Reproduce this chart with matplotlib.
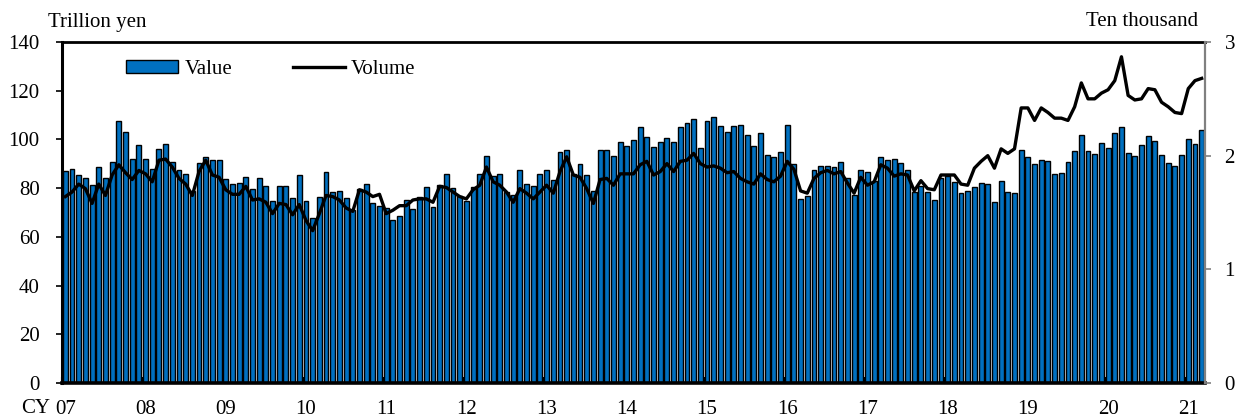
import matplotlib
matplotlib.use("Agg")
import matplotlib.pyplot as plt
import numpy as np
from matplotlib.patches import Patch
from matplotlib.lines import Line2D

plt.rcParams['font.family'] = ['Liberation Serif', 'DejaVu Serif']

# ---- data (monthly, Jan 2007 - Mar 2021) ----
year_labels = ["07", "08", "09", "10", "11", "12", "13", "14",
               "15", "16", "17", "18", "19", "20", "21"]

# Value (trillion yen)
value_07 = [87.1, 87.8, 85.3, 84.0, 81.2, 88.6, 84.0, 90.8, 107.7, 102.9, 91.9, 97.7]
value_08 = [91.8, 87.8, 96.2, 98.2, 90.7, 87.5, 85.8, 79.0, 90.4, 92.7, 91.5, 91.5]
value_09 = [83.6, 81.9, 82.3, 84.4, 79.6, 84.0, 80.8, 74.8, 80.8, 80.8, 75.9, 85.5]
value_10 = [74.8, 67.7, 76.3, 86.7, 78.5, 78.9, 75.9, 71.0, 79.6, 81.5, 74.0, 72.8]
value_11 = [71.8, 67.0, 68.5, 75.3, 71.6, 76.2, 80.3, 72.1, 81.2, 85.8, 79.9, 76.8]
value_12 = [74.8, 80.5, 85.8, 93.4, 84.9, 85.8, 78.5, 77.1, 87.4, 81.5, 81.0, 86.0]
value_13 = [87.4, 83.5, 94.9, 95.5, 86.0, 89.8, 85.3, 79.0, 95.5, 95.5, 93.4, 98.9]
value_14 = [97.5, 99.6, 105.1, 101.1, 97.0, 98.8, 100.4, 98.8, 105.1, 106.8, 108.5, 96.4]
value_15 = [107.6, 109.2, 105.5, 103.1, 105.6, 105.9, 102.0, 97.4, 102.6, 93.5, 92.9, 94.8]
value_16 = [105.9, 89.8, 75.4, 76.8, 87.4, 89.1, 89.1, 88.8, 90.6, 84.1, 77.3, 87.4]
value_17 = [86.7, 83.1, 92.6, 91.7, 91.8, 90.4, 87.5, 78.3, 80.9, 78.3, 75.1, 84.0]
value_18 = [85.0, 82.4, 78.1, 79.0, 80.4, 82.2, 81.6, 74.4, 83.0, 78.5, 78.1, 95.7]
value_19 = [92.6, 89.9, 91.6, 91.2, 86.0, 86.4, 90.7, 95.3, 101.8, 95.3, 94.0, 98.7]
value_20 = [96.6, 102.7, 105.2, 94.5, 93.2, 97.7, 101.4, 99.3, 93.5, 90.5, 89.0, 93.6]
value_21 = [100.1, 98.1, 103.8]

# Volume (ten thousand)
volume_07 = [1.64, 1.68, 1.75, 1.71, 1.58, 1.75, 1.65, 1.83, 1.92, 1.85, 1.79, 1.87]
volume_08 = [1.84, 1.77, 1.96, 1.97, 1.90, 1.80, 1.75, 1.65, 1.86, 1.96, 1.83, 1.81]
volume_09 = [1.70, 1.66, 1.66, 1.73, 1.61, 1.62, 1.59, 1.49, 1.58, 1.57, 1.48, 1.57]
volume_10 = [1.43, 1.34, 1.49, 1.65, 1.64, 1.61, 1.54, 1.51, 1.70, 1.68, 1.64, 1.66]
volume_11 = [1.49, 1.52, 1.56, 1.56, 1.61, 1.62, 1.62, 1.59, 1.73, 1.72, 1.68, 1.64]
volume_12 = [1.62, 1.70, 1.74, 1.90, 1.77, 1.74, 1.68, 1.59, 1.71, 1.67, 1.62, 1.68]
volume_13 = [1.74, 1.67, 1.86, 1.99, 1.83, 1.81, 1.71, 1.58, 1.79, 1.80, 1.74, 1.84]
volume_14 = [1.84, 1.84, 1.92, 1.95, 1.83, 1.86, 1.93, 1.86, 1.95, 1.96, 2.02, 1.93]
volume_15 = [1.90, 1.91, 1.89, 1.85, 1.86, 1.80, 1.77, 1.75, 1.84, 1.79, 1.77, 1.82]
volume_16 = [1.95, 1.88, 1.69, 1.67, 1.80, 1.85, 1.87, 1.84, 1.86, 1.76, 1.67, 1.81]
volume_17 = [1.74, 1.77, 1.92, 1.89, 1.82, 1.84, 1.83, 1.69, 1.78, 1.71, 1.70, 1.83]
volume_18 = [1.83, 1.83, 1.75, 1.74, 1.89, 1.95, 2.00, 1.89, 2.06, 2.02, 2.06, 2.42]
volume_19 = [2.42, 2.31, 2.42, 2.38, 2.33, 2.33, 2.31, 2.43, 2.64, 2.50, 2.50, 2.55]
volume_20 = [2.58, 2.66, 2.87, 2.53, 2.49, 2.50, 2.59, 2.58, 2.47, 2.43, 2.38, 2.37]
volume_21 = [2.59, 2.66, 2.68]

values = np.concatenate([value_07, value_08, value_09, value_10, value_11, value_12,
                         value_13, value_14, value_15, value_16, value_17, value_18,
                         value_19, value_20, value_21])
volumes = np.concatenate([volume_07, volume_08, volume_09, volume_10, volume_11, volume_12,
                          volume_13, volume_14, volume_15, volume_16, volume_17, volume_18,
                          volume_19, volume_20, volume_21])
x = np.arange(len(values))

W, H = 1243, 418
fig = plt.figure(figsize=(W / 100, H / 100), dpi=100)
ax = fig.add_axes([62 / W, 1 - 383 / H, (1205 - 62) / W, 341 / H])

BLUE = '#0070C0'
ax.bar(x, values, width=0.74, color=BLUE, edgecolor='black', linewidth=1.0, zorder=2)
ax.set_xlim(-0.5, len(values) - 0.5)
ax.set_ylim(0, 140)
ax.set_yticks(range(0, 141, 20))

# x ticks: marks at year boundaries, labels at January bars
n_years = len(year_labels)
ax.set_xticks([12 * i - 0.5 for i in range(n_years)])
ax.set_xticklabels([])
ax.set_xticks([12 * i for i in range(n_years)], minor=True)
ax.set_xticklabels(year_labels, minor=True)
ax.tick_params(axis='x', which='major', direction='in', length=4, width=1.5, color='black')
ax.tick_params(axis='x', which='minor', length=0, pad=12, labelsize=15)
ax.tick_params(axis='y', direction='out', length=4, width=1.2, pad=12, labelsize=15)

ax2 = ax.twinx()
ax2.plot(x, volumes, color='black', lw=2.4, zorder=3, solid_joinstyle='round')
ax2.set_ylim(0, 3)
ax2.set_yticks([0, 1, 2, 3])
ax2.tick_params(axis='y', direction='out', length=4, width=1.2, color='#808080',
                pad=10, labelsize=15)

for s in ['left', 'top', 'bottom']:
    ax2.spines[s].set_visible(False)
ax.spines['right'].set_visible(False)
ax.spines['top'].set_linewidth(2.0)
ax.spines['left'].set_linewidth(2.2)
ax.spines['bottom'].set_linewidth(2.6)
ax2.spines['right'].set_color('#808080')
ax2.spines['right'].set_linewidth(1.6)

handles = [Patch(facecolor=BLUE, edgecolor='black', linewidth=1.0),
           Line2D([], [], color='black', lw=2.4)]
ax2.legend(handles, ['Value', 'Volume'], ncol=2, frameon=False, fontsize=15,
           loc='upper left', bbox_to_anchor=(0.056, 0.948), borderaxespad=0,
           borderpad=0, handlelength=2.5, handleheight=0.55, handletextpad=0.3,
           columnspacing=2.9)

fig.text(48 / W, 1 - 22 / H, 'Trillion yen', ha='left', va='center', fontsize=15)
fig.text(1198 / W, 1 - 22 / H, 'Ten thousand', ha='right', va='center', fontsize=15)
fig.text(36 / W, 1 - 399 / H, 'CY', ha='center', va='top', fontsize=15)

fig.savefig('out.png', dpi=100)
